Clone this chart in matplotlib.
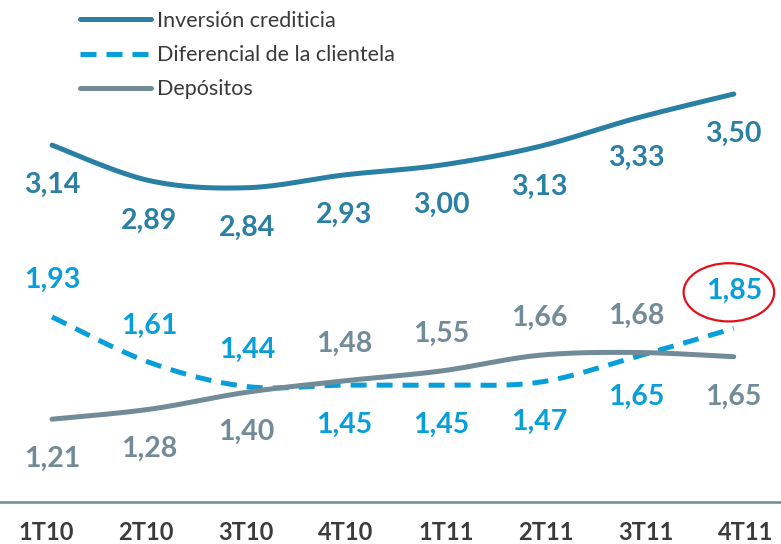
import numpy as np
import matplotlib.pyplot as plt
from matplotlib.patches import Ellipse

plt.rcParams['font.family'] = ['Lato', 'DejaVu Sans']

trimestres = ["1T10", "2T10", "3T10", "4T10", "1T11", "2T11", "3T11", "4T11"]
inversion = [3.14, 2.89, 2.84, 2.93, 3.00, 3.13, 3.33, 3.50]
diferencial = [1.93, 1.61, 1.44, 1.45, 1.45, 1.47, 1.65, 1.85]
depositos = [1.21, 1.28, 1.40, 1.48, 1.55, 1.66, 1.68, 1.65]

# donde va cada etiqueta respecto a su punto
pos_inversion = ["abajo"] * 8
pos_diferencial = ["arriba", "arriba", "arriba", "abajo", "abajo", "abajo", "abajo", "arriba"]
pos_depositos = ["abajo", "abajo", "abajo", "arriba", "arriba", "arriba", "arriba", "abajo"]
destacado = 7  # punto del diferencial marcado con la elipse roja

c_inv = "#2a7fa5"
c_dif = "#079fda"
c_dep = "#728b98"


def suavizar(y, n=30):
    # curva suavizada tipo Excel (Catmull-Rom / Bezier con tension 1/6)
    y = np.asarray(y, dtype=float)
    x = np.arange(len(y), dtype=float)
    p = np.column_stack([x, y])
    p = np.vstack([p[0], p, p[-1]])
    out = []
    for i in range(1, len(p) - 2):
        p0, p1, p2, p3 = p[i - 1], p[i], p[i + 1], p[i + 2]
        c1 = p1 + (p2 - p0) / 6
        c2 = p2 - (p3 - p1) / 6
        t = np.linspace(0, 1, n)[:, None]
        seg = (1 - t) ** 3 * p1 + 3 * (1 - t) ** 2 * t * c1 + 3 * (1 - t) * t ** 2 * c2 + t ** 3 * p2
        out.append(seg if i == 1 else seg[1:])
    out = np.vstack(out)
    return out[:, 0], out[:, 1]


fig = plt.figure(figsize=(7.81, 5.44), dpi=100)
ax = fig.add_axes([0, 42 / 544, 1, 502 / 544])

series = [
    ("Inversión crediticia", inversion, pos_inversion, c_inv, "-"),
    ("Diferencial de la clientela", diferencial, pos_diferencial, c_dif, (0, (3.2, 2.0))),
    ("Depósitos", depositos, pos_depositos, c_dep, "-"),
]

for nombre, vals, posiciones, color, estilo in series:
    xs, ys = suavizar(vals)
    ax.plot(xs, ys, color=color, lw=3.6, ls=estilo, solid_capstyle="round",
            dash_capstyle="butt", label=nombre)
    for i, (v, p) in enumerate(zip(vals, posiciones)):
        dy = 37 if p == "arriba" else -40
        ax.annotate(f"{v:.2f}".replace(".", ","), (i, v), xytext=(0, dy),
                    textcoords="offset pixels", ha="center", va="center",
                    fontsize=20.5, fontweight="bold", color=color)

# elipse roja alrededor de la etiqueta destacada
ax.add_patch(Ellipse((destacado - 0.05, diferencial[destacado] + 36 / 142), 0.93, 0.41,
                     fill=False, edgecolor="#e3101b", lw=1.6))

ax.set_xlim(-0.534, 7.485)
ax.set_ylim(0.627, 4.162)
for s in ["top", "right", "left"]:
    ax.spines[s].set_visible(False)
ax.spines["bottom"].set_color(c_dep)
ax.spines["bottom"].set_linewidth(1.8)
ax.set_yticks([])
ax.set_xticks([])

# rotulos del eje x (algo mas separados que los puntos)
axx = fig.add_axes([-4 / 781, 0, 800 / 781, 42 / 544])
axx.set_xlim(-0.5, 7.5)
axx.set_xticks(range(len(trimestres)))
axx.set_xticklabels(trimestres, fontsize=17, fontweight="bold", color="#3b3b3b")
axx.xaxis.set_ticks_position("top")
axx.tick_params(axis="x", length=0, pad=-30)
axx.set_yticks([])
axx.patch.set_visible(False)
for s in axx.spines.values():
    s.set_visible(False)

leg = ax.legend(loc="upper left", bbox_to_anchor=(80 / 781, 1 - 11 / 502), frameon=False,
                fontsize=15.5, handlelength=3.3, handletextpad=0.28, labelspacing=0.66,
                borderpad=0, borderaxespad=0, labelcolor="#3a3a3a")
for h in leg.get_lines():
    h.set_linewidth(3.6)

fig.savefig("out.png", dpi=100)
